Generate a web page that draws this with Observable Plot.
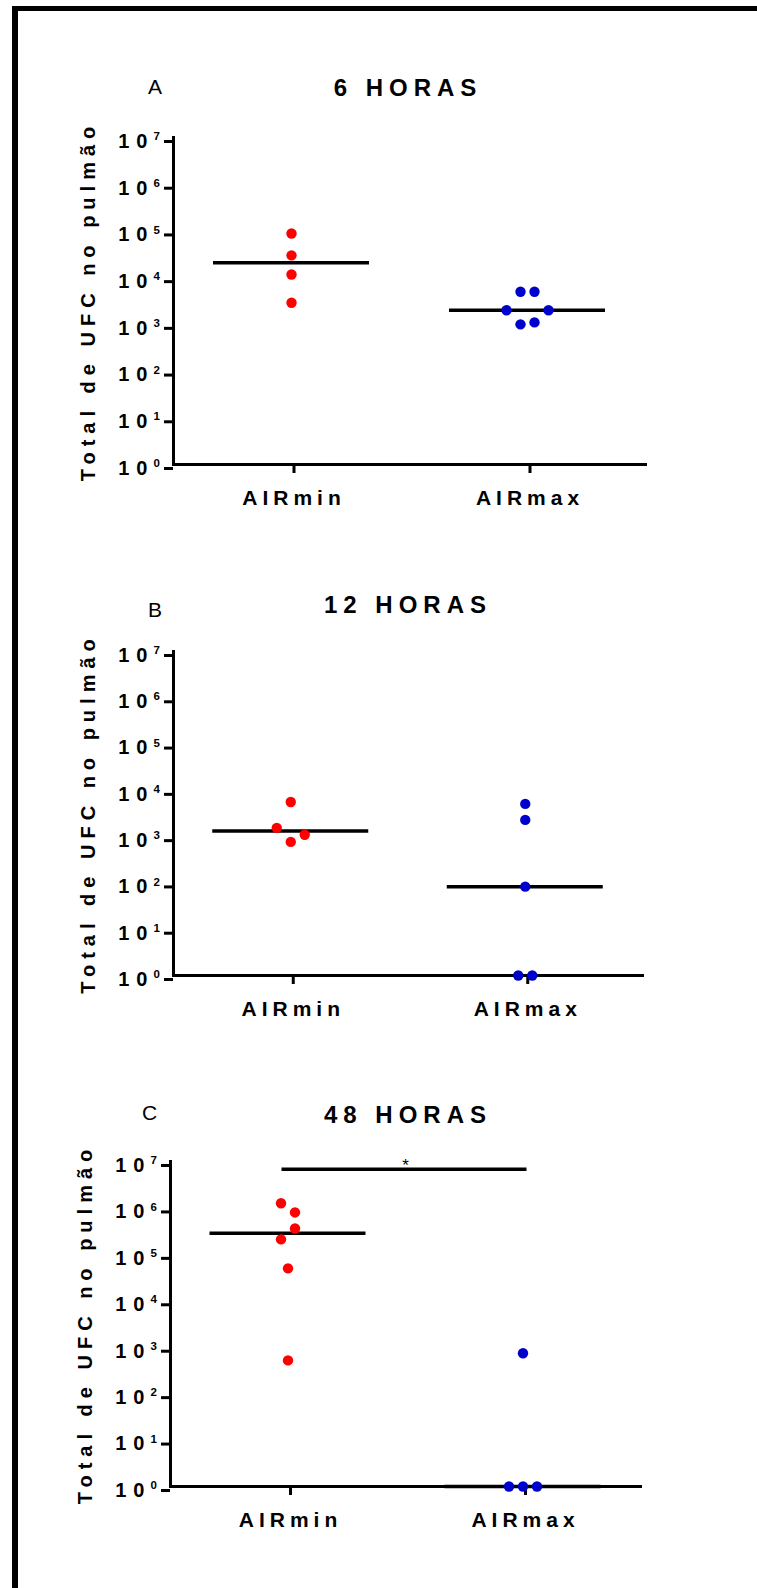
<!DOCTYPE html>
<html>
<head>
<meta charset="utf-8">
<script src="https://cdn.jsdelivr.net/npm/d3@7"></script>
<script src="https://cdn.jsdelivr.net/npm/@observablehq/plot@0.6"></script>
<style>
  body { margin: 0; background: #fff; }
  #page { position: relative; width: 757px; height: 1588px; overflow: hidden; background: #fff;
          font-family: "Liberation Sans", Arial, sans-serif; color: #000; }
  .edge-left { position: absolute; left: 12px; top: 6px; width: 6px; bottom: 0; background: #000; }
  .edge-top { position: absolute; left: 12px; top: 6px; right: 0; height: 5px; background: #000; }
  .panel { position: absolute; left: 0; }
  .letter { position: absolute; font-size: 21px; line-height: 21px; white-space: nowrap; }
  .title { position: absolute; font-size: 24px; line-height: 24px; font-weight: bold; letter-spacing: 6px;
           white-space: nowrap; transform: translateX(-50%); padding-left: 6px; }
  g[aria-label="y-axis tick label"] text { letter-spacing: 7px; }
  g[aria-label="x-axis tick label"] text { letter-spacing: 5px; }
</style>
</head>
<body>
<div id="page">
  <div class="edge-left"></div>
  <div class="edge-top"></div>
</div>
<script>
// Groups and time points
const groups = ["AIRmin", "AIRmax"];
const timepoints = ["6 HORAS", "12 HORAS", "48 HORAS"];
const panelLetters = ["A", "B", "C"];
const yLabel = "Total de UFC no pulmão";
const yTicks = [1, 10, 100, 1e3, 1e4, 1e5, 1e6, 1e7];

// Colony counts (UFC) per animal
const ufc6hMin = [88000, 30000, 11700, 2900];
const ufc6hMax = [5000, 5000, 2000, 1000, 1100, 2000];
const ufc12hMin = [5600, 1550, 770, 1100];
const ufc12hMax = [5100, 2300, 83, 1, 1];
const ufc48hMin = [1260000, 800000, 210000, 360000, 50000, 520];
const ufc48hMax = [740, 1, 1, 1];

// Significance bracket (48 h): level and mark
const sig48hLevel = 6.8e6;
const sig48hText = "*";

const groupColors = ["#ff0000", "#0000cc"];

const series = [
  [ufc6hMin, ufc6hMax],
  [ufc12hMin, ufc12hMax],
  [ufc48hMin, ufc48hMax]
];

// Page layout of each panel (pixels)
const layout = [
  {top: 100, frameTop: 137, frameBottom: 464, left: 173, right: 645, letterTop: 76, letterLeft: 148, titleTop: 76},
  {top: 614, frameTop: 651, frameBottom: 975, left: 173, right: 642, letterTop: 599, letterLeft: 148, titleTop: 593},
  {top: 1124, frameTop: 1161, frameBottom: 1486, left: 170, right: 640, letterTop: 1102, letterLeft: 142, titleTop: 1103}
];
const svgWidth = 757, svgHeight = 430;
const titleCenter = 405;
const dotRadius = 5.2;
const dotStepPx = 14;      // horizontal spacing of dots sharing a row
const medianHalfPx = 78;   // half length of the median line
const rowSpanDecades = 0.32;

// Spread points that fall in the same vertical band into a centred row
function swarm(values, g, stepUnits) {
  const pts = values.map((v, i) => ({v, i, g, offset: 0}));
  const sorted = pts.slice().sort((a, b) => b.v - a.v || a.i - b.i);
  const rows = [];
  let cur = null;
  for (const p of sorted) {
    if (cur && Math.log10(cur.top) - Math.log10(p.v) < rowSpanDecades) cur.items.push(p);
    else { cur = {top: p.v, items: [p]}; rows.push(cur); }
  }
  for (const r of rows) {
    r.items.sort((a, b) => a.i - b.i);
    const k = r.items.length;
    r.items.forEach((p, j) => { p.offset = (j - (k - 1) / 2) * stepUnits; });
  }
  return pts;
}

const page = document.getElementById("page");

layout.forEach((L, p) => {
  const pxPerUnit = (L.right - L.left) / 2;
  const step = dotStepPx / pxPerUnit;
  const half = medianHalfPx / pxPerUnit;

  const points = series[p].flatMap((vals, g) => swarm(vals, g, step));
  const medians = series[p].map((vals, g) => ({pos: g + 1, median: d3.median(vals)}));

  const marks = [
    Plot.axisY({
      ticks: yTicks, tickSize: 9, tickPadding: 10, strokeWidth: 3,
      tickFormat: () => "10", fontSize: 20, fontWeight: "bold", dy: 4
    }),
    Plot.text(yTicks, {
      y: d => d, frameAnchor: "left", dx: -20, dy: -1,
      text: d => String(Math.round(Math.log10(d))),
      textAnchor: "start", fontSize: 11.5, fontWeight: "bold"
    }),
    Plot.axisX({
      ticks: [1, 2], tickSize: 9, tickPadding: 17, strokeWidth: 3,
      tickFormat: d => groups[d - 1], fontSize: 21, fontWeight: "bold", dx: 2.5
    }),
    Plot.frame({anchor: "left", strokeWidth: 3}),
    Plot.frame({anchor: "bottom", strokeWidth: 3}),
    Plot.ruleY(medians, {x1: d => d.pos - half, x2: d => d.pos + half, y: "median", strokeWidth: 3.5}),
    Plot.dot(points, {x: d => d.g + 1 + d.offset, y: "v", r: dotRadius, fill: d => groupColors[d.g], stroke: null}),
    Plot.text([yLabel], {
      frameAnchor: "left", textAnchor: "middle", dx: -85, rotate: -90, fontSize: 20, fontWeight: "bold"
    })
  ];

  if (p === 2) {
    marks.push(
      Plot.ruleY([sig48hLevel], {x1: 1, x2: 2, strokeWidth: 3.5, insetLeft: -6, insetRight: -4}),
      Plot.text([sig48hText], {x: 1.5, y: sig48hLevel, dy: -4, fontSize: 17})
    );
  }

  const chart = Plot.plot({
    width: svgWidth,
    height: svgHeight,
    marginLeft: L.left,
    marginRight: svgWidth - L.right,
    marginTop: L.frameTop - L.top,
    marginBottom: L.top + svgHeight - L.frameBottom,
    x: {domain: [0.5, 2.5], axis: null},
    y: {type: "log", domain: [1, 1e7], axis: null},
    style: {fontFamily: "'Liberation Sans', Arial, sans-serif", color: "#000", background: "transparent", overflow: "visible"},
    marks
  });
  chart.classList.add("panel");
  chart.style.top = L.top + "px";
  // spaced lettering for the rotated axis title
  chart.querySelectorAll("text").forEach(t => {
    if (t.textContent === yLabel) t.style.letterSpacing = "6px";
  });
  page.appendChild(chart);

  const letter = document.createElement("div");
  letter.className = "letter";
  letter.textContent = panelLetters[p];
  letter.style.left = L.letterLeft + "px";
  letter.style.top = L.letterTop + "px";
  page.appendChild(letter);

  const title = document.createElement("div");
  title.className = "title";
  title.textContent = timepoints[p];
  title.style.left = titleCenter + "px";
  title.style.top = L.titleTop + "px";
  page.appendChild(title);
});
</script>
</body>
</html>
